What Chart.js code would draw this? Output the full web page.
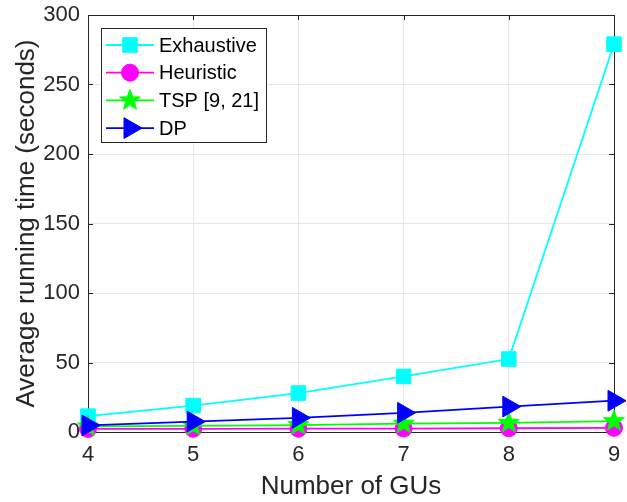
<!DOCTYPE html>
<html>
<head>
<meta charset="utf-8">
<script src="https://cdn.jsdelivr.net/npm/chart.js@4.4.0/dist/chart.umd.min.js"></script>
<style>
    html, body { margin: 0; padding: 0; background: #fff; }
    #wrap { width: 627px; height: 502px; }
</style>
</head>
<body>
<div id="wrap"><canvas id="graficoTempo" width="627" height="502"></canvas></div>
<script>
// numero de GUs e tempo medio (s) de cada metodo
const numGUs = [4, 5, 6, 7, 8, 9];
const tempoExaustivo = [11.4, 19, 28, 40, 52.5, 279];
const tempoHeuristico = [2.2, 2.3, 2.4, 2.5, 2.7, 3];
const tempoTSP = [4, 4.4, 5, 6, 6.6, 7.8];
const tempoDP = [4.7, 7.5, 10.2, 13.8, 18.3, 22.5];
const ticksY = [0, 50, 100, 150, 200, 250, 300];

const corEixo = '#262626';
const fonte = 'Liberation Sans, Arial, Helvetica, sans-serif';

// estrela cheia (o 'star' do Chart.js eh so um asterisco)
function fazerEstrela(r, cor) {
    const c = document.createElement('canvas');
    c.width = c.height = Math.ceil(r * 2 + 2);
    const g = c.getContext('2d');
    const cx = c.width / 2, cy = c.height / 2;
    g.beginPath();
    for (let i = 0; i < 10; i++) {
        const raio = i % 2 === 0 ? r : r * 0.42;
        const ang = -Math.PI / 2 + i * Math.PI / 5;
        g.lineTo(cx + raio * Math.cos(ang), cy + raio * Math.sin(ang));
    }
    g.closePath();
    g.fillStyle = cor;
    g.fill();
    g.strokeStyle = cor;
    g.lineWidth = 1;
    g.stroke();
    return c;
}
const estrela = fazerEstrela(11, '#00ff00');

// ordem: a ultima serie fica por cima, como no matlab
function serie(label, valores, cor, estilo, raio, ordem, extra) {
    return Object.assign({
        label: label,
        data: numGUs.map((x, i) => ({ x: x, y: valores[i] })),
        borderColor: cor,
        backgroundColor: cor,
        borderWidth: 1.8,
        pointStyle: estilo,
        pointRadius: raio,
        pointBackgroundColor: cor,
        pointBorderColor: cor,
        pointBorderWidth: 1,
        tension: 0,
        clip: false,
        order: ordem
    }, extra || {});
}

// moldura e tiques para dentro, estilo matlab
const molduraPlugin = {
    id: 'moldura',
    beforeDatasetsDraw(chart) {
        const { ctx, chartArea: a, scales } = chart;
        ctx.save();
        ctx.strokeStyle = corEixo;
        ctx.lineWidth = 1;
        ctx.strokeRect(Math.round(a.left) + 0.5, Math.round(a.top) + 0.5,
            Math.round(a.right - a.left), Math.round(a.bottom - a.top));
        ctx.beginPath();
        const t = 5;
        ticksY.forEach(v => {
            const y = Math.round(scales.y.getPixelForValue(v)) + 0.5;
            ctx.moveTo(a.left, y); ctx.lineTo(a.left + t, y);
            ctx.moveTo(a.right, y); ctx.lineTo(a.right - t, y);
        });
        numGUs.forEach(v => {
            const x = Math.round(scales.x.getPixelForValue(v)) + 0.5;
            ctx.moveTo(x, a.bottom); ctx.lineTo(x, a.bottom - t);
            ctx.moveTo(x, a.top); ctx.lineTo(x, a.top + t);
        });
        ctx.stroke();
        ctx.restore();
    }
};

function desenharMarcador(ctx, ds, x, y) {
    const r = ds.pointRadius;
    ctx.fillStyle = ds.pointBackgroundColor;
    ctx.strokeStyle = ds.pointBorderColor;
    ctx.lineWidth = 1;
    ctx.beginPath();
    if (ds.pointStyle === 'rect') {
        const s = Math.SQRT1_2 * r;
        ctx.rect(x - s, y - s, 2 * s, 2 * s);
    } else if (ds.pointStyle === 'circle') {
        ctx.arc(x, y, r, 0, Math.PI * 2);
    } else if (ds.pointStyle === 'triangle') {
        // triangulo apontando para a direita
        for (let i = 0; i < 3; i++) {
            const ang = i * 2 * Math.PI / 3;
            ctx.lineTo(x + Math.cos(ang) * r, y + Math.sin(ang) * r);
        }
        ctx.closePath();
    } else {
        ctx.drawImage(ds.pointStyle, x - ds.pointStyle.width / 2, y - ds.pointStyle.height / 2);
        return;
    }
    ctx.fill();
    ctx.stroke();
}

// legenda dentro da area do grafico, com linha + marcador
const legendaPlugin = {
    id: 'legendaMatlab',
    afterDraw(chart) {
        const { ctx, chartArea: a } = chart;
        const bx = a.left + 13, by = a.top + 13, bw = 165, bh = 114;
        ctx.save();
        ctx.fillStyle = '#fff';
        ctx.fillRect(bx, by, bw, bh);
        ctx.strokeStyle = corEixo;
        ctx.lineWidth = 1;
        ctx.strokeRect(Math.round(bx) + 0.5, Math.round(by) + 0.5, bw, bh);
        ctx.font = '20px ' + fonte;
        ctx.textBaseline = 'middle';
        chart.data.datasets.forEach((ds, i) => {
            const y = by + 17 + i * 27.7;
            ctx.strokeStyle = ds.borderColor;
            ctx.lineWidth = ds.borderWidth;
            ctx.beginPath();
            ctx.moveTo(bx + 5, y);
            ctx.lineTo(bx + 53, y);
            ctx.stroke();
            desenharMarcador(ctx, ds, bx + 29, y);
            ctx.fillStyle = '#000';
            ctx.fillText(ds.label, bx + 58, y + 1);
        });
        ctx.restore();
    }
};

const ctx = document.getElementById('graficoTempo').getContext('2d');
const grafico = new Chart(ctx, {
    type: 'line',
    data: {
        datasets: [
            serie('Exhaustive', tempoExaustivo, '#00ffff', 'rect', 10.3, 3),
            serie('Heuristic', tempoHeuristico, '#ff00ff', 'circle', 8.5, 2),
            serie('TSP [9, 21]', tempoTSP, '#00ff00', estrela, 11, 1),
            serie('DP', tempoDP, '#0000ff', 'triangle', 12, 0, { pointRotation: 90 })
        ]
    },
    options: {
        responsive: false,
        animation: false,
        devicePixelRatio: 1,
        layout: { padding: { left: 0, top: 15, right: 11, bottom: 0 } },
        plugins: { legend: { display: false }, tooltip: { enabled: false } },
        scales: {
            x: {
                type: 'linear',
                min: 4,
                max: 9,
                afterBuildTicks: s => { s.ticks = numGUs.map(v => ({ value: v })); },
                afterFit: s => { s.height = 70; s.paddingLeft = 0; s.paddingRight = 0; },
                grid: { color: '#e6e6e6', drawTicks: false },
                border: { display: false },
                ticks: { color: corEixo, padding: 10, font: { family: fonte, size: 22 } },
                title: {
                    display: true,
                    text: 'Number of GUs',
                    color: corEixo,
                    padding: { top: 0, bottom: 0 },
                    font: { family: fonte, size: 26 }
                }
            },
            y: {
                min: 0,
                max: 300,
                afterBuildTicks: s => { s.ticks = ticksY.map(v => ({ value: v })); },
                afterFit: s => { s.width = 88; s.paddingTop = 0; s.paddingBottom = 0; },
                grid: { color: '#e6e6e6', drawTicks: false },
                border: { display: false },
                ticks: { color: corEixo, padding: 8, font: { family: fonte, size: 22 } },
                title: {
                    display: true,
                    text: 'Average running time (seconds)',
                    color: corEixo,
                    padding: { top: 11, bottom: 0 },
                    font: { family: fonte, size: 26 }
                }
            }
        }
    },
    plugins: [molduraPlugin, legendaPlugin]
});
</script>
</body>
</html>
